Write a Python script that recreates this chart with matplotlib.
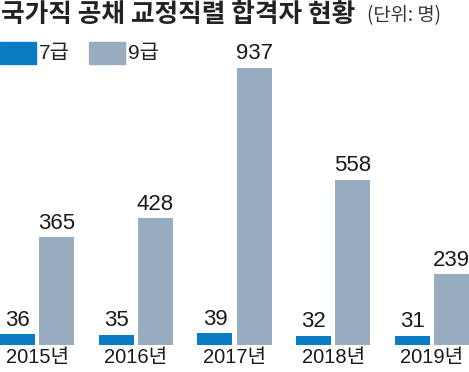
import numpy as np
import matplotlib.pyplot as plt
from matplotlib.patches import Rectangle

years = ['2015년', '2016년', '2017년', '2018년', '2019년']
grade7 = [36, 35, 39, 32, 31]
grade9 = [365, 428, 937, 558, 239]
labels = ['7급', '9급']

c7 = '#0b7bc4'
c9 = '#98adbf'
fam = ['Liberation Sans Narrow', 'Liberation Sans', 'Noto Sans CJK KR', 'DejaVu Sans']
plt.rcParams['font.family'] = fam

fig = plt.figure(figsize=(4.69, 3.72), dpi=100)
ax = fig.add_axes([0, 27/372, 1, 345/372])

x = np.arange(len(years))
w = 0.355
off = 0.198
ax.bar(x - off, grade7, w, color=c7)
ax.bar(x + off, grade9, w, color=c9)

for i in range(len(years)):
    ax.text(x[i] - off, grade7[i] + 12, str(grade7[i]), ha='center', va='bottom',
            fontsize=16, color='#1a1a1a')
    ax.text(x[i] + off, grade9[i] + 12, str(grade9[i]), ha='center', va='bottom',
            fontsize=16, color='#1a1a1a')
    ax.text(x[i], -10, years[i], ha='center', va='top', fontsize=14.5, color='#1a1a1a')

ax.set_xlim(-0.375, 4.375)
ax.set_ylim(0, 937 * 345 / 277)
ax.axis('off')

# title
fig.text(0.002, 1 - 15/372, '국가직 공채 교정직렬 합격자 현황', fontsize=18.5, fontweight='bold',
         family=['Noto Sans CJK KR'], va='center', ha='left', color='#222222')
fig.text(367/469, 1 - 16/372, '(단위: 명)', fontsize=13.5, family=['Noto Sans CJK KR'],
         va='center', ha='left', color='#333333')

# legend
for lx, col, lab in [(0, c7, labels[0]), (89, c9, labels[1])]:
    fig.patches.append(Rectangle((lx/469, 1 - 64/372), 36/469, 22/372,
                                 transform=fig.transFigure, color=col))
    fig.text((lx + 39)/469, 1 - 53/372, lab, fontsize=15, va='center', ha='left',
             color='#222222')

fig.savefig('out.png', dpi=100)
